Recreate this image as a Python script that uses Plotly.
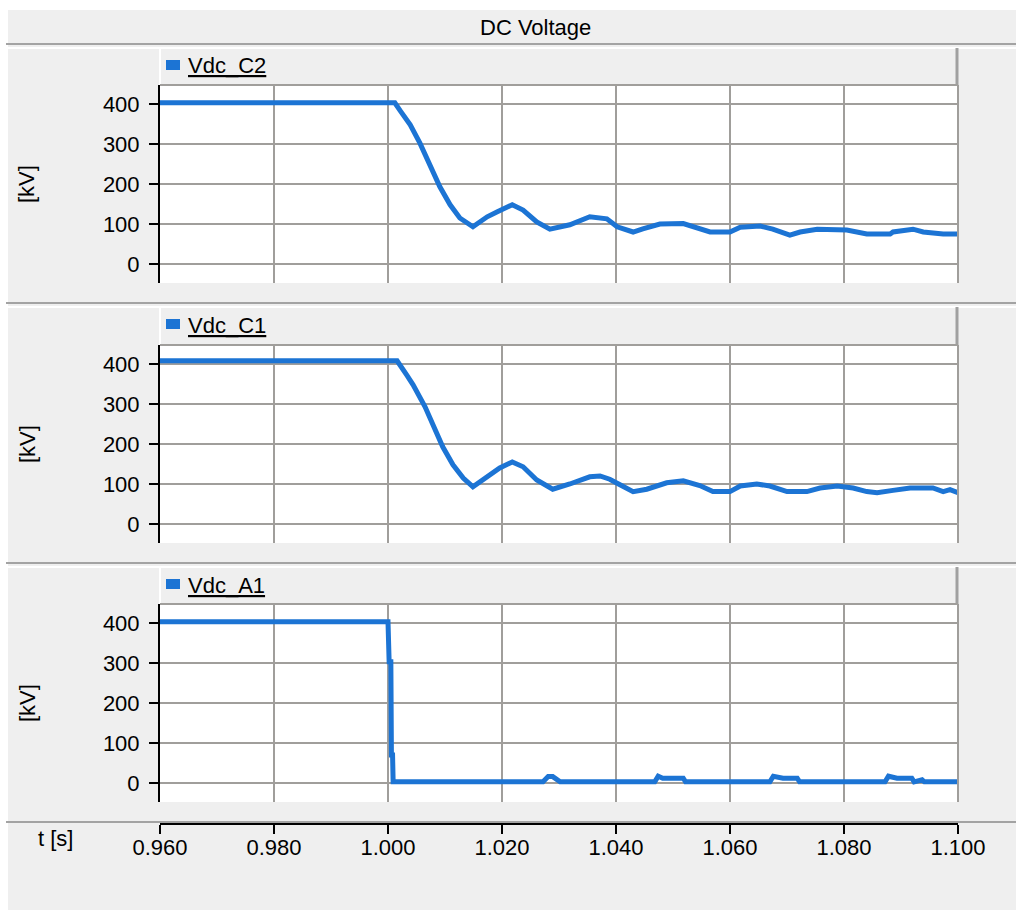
import plotly.graph_objects as go

# ---- data -------------------------------------------------------------
t_c2 = [0.9600, 1.0012, 1.0021, 1.0030, 1.0039, 1.0056, 1.0074, 1.0091, 1.0109, 1.0126, 1.0149,
        1.0174, 1.0191, 1.0218, 1.0237, 1.0261, 1.0284, 1.0319, 1.0354, 1.0384, 1.0402,
        1.0430, 1.0447, 1.0477, 1.0518, 1.0542, 1.0565, 1.0600, 1.0618, 1.0653, 1.0675,
        1.0705, 1.0723, 1.0753, 1.0805, 1.0840, 1.0881, 1.0886, 1.0921, 1.0939, 1.0974, 1.1000]
v_c2 = [403, 403, 384, 368, 348, 302, 243, 193, 148, 115, 93,
        118, 130, 148, 135, 105, 87, 98, 118, 113, 93,
        80, 88, 100, 101, 90, 80, 80, 92, 95, 87,
        72, 80, 87, 85, 75, 75, 80, 87, 80, 75, 75]

t_c1 = [0.9600, 1.0016, 1.0033, 1.0044, 1.0065, 1.0079, 1.0096, 1.0114, 1.0132, 1.0149,
        1.0174, 1.0196, 1.0218, 1.0237, 1.0261, 1.0289, 1.0319, 1.0354, 1.0372, 1.0389,
        1.0407, 1.0430, 1.0454, 1.0489, 1.0518, 1.0547, 1.0570, 1.0600, 1.0618, 1.0647,
        1.0670, 1.0700, 1.0735, 1.0758, 1.0788, 1.0816, 1.0840, 1.0858, 1.0886, 1.0916,
        1.0956, 1.0974, 1.0986, 1.1000]
v_c1 = [408, 408, 372, 348, 293, 248, 193, 148, 115, 93,
        118, 140, 155, 143, 110, 87, 100, 118, 120, 112,
        98, 81, 87, 103, 108, 96, 81, 81, 95, 100,
        95, 81, 81, 90, 95, 90, 81, 78, 84, 90,
        90, 81, 86, 78]

t_a1 = [0.9600, 1.0000, 1.0002, 1.0005, 1.0006, 1.0008, 1.0009,
        1.0272, 1.0281, 1.0289, 1.0302,
        1.0468, 1.0474, 1.0482, 1.0518, 1.0522,
        1.0670, 1.0676, 1.0693, 1.0718, 1.0722,
        1.0872, 1.0878, 1.0893, 1.0919, 1.0923, 1.0937, 1.0941, 1.1000]
v_a1 = [403, 403, 303, 303, 70, 70, 3,
        3, 16, 16, 3,
        3, 17, 12, 12, 3,
        3, 17, 12, 12, 3,
        3, 17, 12, 12, 3, 8, 3, 3]

series = [("Vdc_C2", t_c2, v_c2), ("Vdc_C1", t_c1, v_c1), ("Vdc_A1", t_a1, v_a1)]
x_ticks = [0.96, 0.98, 1.00, 1.02, 1.04, 1.06, 1.08, 1.10]
y_ticks = [0, 100, 200, 300, 400]

# ---- geometry helpers (pixel -> paper) --------------------------------
W, H = 1016, 910
def PX(p): return p / W
def PY(p): return 1 - p / H

LINE = "#1c74d4"
GRID = "#a09e9b"
BG = "#efefef"
FONT = "Liberation Sans, Arial, sans-serif"
FS = 22

plot_left, plot_right = 160, 958
panels = [(85, 283), (345, 543), (604, 802)]       # plot-area top/bottom in px
seps = [44, 303, 563]                               # band separators above each panel

fig = go.Figure()
for i, (name, t, v) in enumerate(series):
    sfx = "" if i == 0 else str(i + 1)
    fig.add_trace(go.Scatter(x=t, y=v, mode="lines", name=name,
                             line=dict(color=LINE, width=5),
                             xaxis="x" + sfx, yaxis="y" + sfx, hoverinfo="skip"))

layout = dict(width=W, height=H, autosize=False,
              margin=dict(l=0, r=0, t=0, b=0, pad=0, autoexpand=False),
              paper_bgcolor=BG, plot_bgcolor="white", showlegend=False,
              font=dict(family=FONT, size=FS, color="black"))

for i, (top, bot) in enumerate(panels):
    sfx = "" if i == 0 else str(i + 1)
    xa = dict(domain=[PX(plot_left), PX(plot_right)], range=[0.96, 1.10],
              tickvals=x_ticks, showgrid=True, gridcolor=GRID, gridwidth=2,
              zeroline=False, anchor="y" + sfx, fixedrange=True, automargin=False)
    if i < 2:
        xa.update(showticklabels=False, ticks="", showline=False)
    else:
        xa.update(anchor="free", position=PY(824), showline=True, linecolor="black",
                  linewidth=2, ticks="outside", ticklen=9, tickwidth=2, tickcolor="black",
                  tickformat=".3f", tickfont=dict(size=FS), ticklabelstandoff=-5)
    ya = dict(domain=[PY(bot), PY(top)], range=[-47.5, 447.5], tickvals=y_ticks,
              showgrid=True, gridcolor=GRID, gridwidth=2, zeroline=False,
              showline=True, linecolor="black", linewidth=2, ticks="outside",
              ticklen=9, tickwidth=2, tickcolor="black", anchor="x" + sfx,
              tickfont=dict(size=FS), ticklabelstandoff=5, fixedrange=True,
              automargin=False)
    layout["xaxis" + sfx] = xa
    layout["yaxis" + sfx] = ya

shapes = []
# white outer margin strips
shapes.append(dict(type="rect", xref="paper", yref="paper", x0=0, x1=PX(8), y0=0, y1=1,
                   fillcolor="white", line=dict(width=0), layer="below"))
shapes.append(dict(type="rect", xref="paper", yref="paper", x0=0, x1=1, y0=PY(10), y1=1,
                   fillcolor="white", line=dict(width=0), layer="below"))
for i, (top, bot) in enumerate(panels):
    s = seps[i]
    # etched separator: dark line then light line
    shapes.append(dict(type="line", xref="paper", yref="paper", x0=PX(6), x1=1,
                       y0=PY(s), y1=PY(s), line=dict(color="#a3a3a3", width=2)))
    shapes.append(dict(type="line", xref="paper", yref="paper", x0=PX(8), x1=1,
                       y0=PY(s + 4), y1=PY(s + 4), line=dict(color="white", width=2)))
    # legend header box edges
    shapes.append(dict(type="line", xref="paper", yref="paper", x0=PX(160), x1=PX(160),
                       y0=PY(s + 4), y1=PY(top), line=dict(color="white", width=2)))
    shapes.append(dict(type="line", xref="paper", yref="paper", x0=PX(957), x1=PX(957),
                       y0=PY(s + 4), y1=PY(top), line=dict(color="#a0a0a0", width=3)))
    shapes.append(dict(type="line", xref="paper", yref="paper", x0=PX(160), x1=PX(958),
                       y0=PY(top), y1=PY(top), line=dict(color=GRID, width=2)))
    # right edge of plot area
    shapes.append(dict(type="line", xref="paper", yref="paper", x0=PX(958), x1=PX(958),
                       y0=PY(top), y1=PY(bot), line=dict(color=GRID, width=2)))
    # legend marker
    shapes.append(dict(type="rect", xref="paper", yref="paper", x0=PX(166), x1=PX(180),
                       y0=PY(s + 26), y1=PY(s + 16), fillcolor=LINE, line=dict(width=0)))
# separator above the time axis
shapes.append(dict(type="line", xref="paper", yref="paper", x0=PX(6), x1=1,
                   y0=PY(822), y1=PY(822), line=dict(color="#a3a3a3", width=2)))
layout["shapes"] = shapes

ann = [dict(text="DC Voltage", x=PX(535), y=PY(27), xref="paper", yref="paper",
            showarrow=False, xanchor="center", yanchor="middle", font=dict(size=FS))]
for i, (top, bot) in enumerate(panels):
    s = seps[i]
    ann.append(dict(text="<u>" + series[i][0] + "</u>", x=PX(186), y=PY(s + 22),
                    xref="paper", yref="paper", showarrow=False, xanchor="left",
                    yanchor="middle", font=dict(size=FS)))
    ann.append(dict(text="[kV]", x=PX(27), y=PY((top + bot) / 2), xref="paper", yref="paper",
                    showarrow=False, textangle=-90, xanchor="center", yanchor="middle",
                    font=dict(size=FS)))
ann.append(dict(text="t [s]", x=PX(55), y=PY(838), xref="paper", yref="paper",
                showarrow=False, xanchor="center", yanchor="middle", font=dict(size=FS)))
layout["annotations"] = ann

fig.update_layout(**layout)
fig.write_html("out.html", config={"responsive": False, "displayModeBar": False})
